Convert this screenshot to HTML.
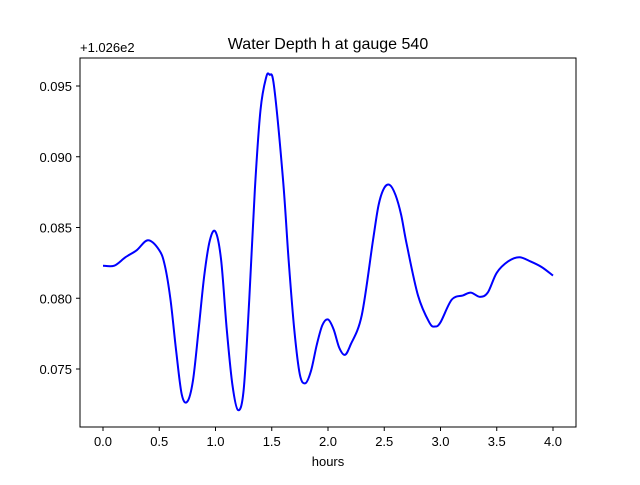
<!DOCTYPE html>
<html><head><meta charset="utf-8"><style>
body{margin:0;background:#fff;}
svg{font-family:"Liberation Sans","DejaVu Sans",sans-serif;}
</style></head><body>
<svg id="chart" width="640" height="480">
<rect x="0" y="0" width="640" height="480" fill="#fff"/>
<text x="328" y="49" text-anchor="middle" font-size="16">Water Depth h at gauge 540</text>
<text x="80" y="52" font-size="13">+1.026e2</text>
<g id="xt"></g>
<g id="yt"></g>
<path id="line" fill="none" stroke="#0000ff" stroke-width="2"/>
<rect x="80" y="58" width="496" height="369" fill="none" stroke="#000" stroke-width="1"/>
<text x="328" y="466" text-anchor="middle" font-size="13">hours</text>
</svg>
<script>
const hours=[0,0.1,0.2,0.3,0.4,0.5,0.55,0.6,0.65,0.7,0.75,0.8,0.85,0.9,0.95,1.0,1.05,1.1,1.15,1.2,1.25,1.3,1.35,1.4,1.45,1.48,1.52,1.6,1.65,1.7,1.75,1.8,1.85,1.9,1.95,2.0,2.05,2.1,2.15,2.2,2.3,2.4,2.45,2.5,2.55,2.6,2.65,2.7,2.8,2.9,2.95,3.0,3.1,3.2,3.27,3.35,3.42,3.5,3.6,3.7,3.8,3.9,4.0];
const depth=[0.0823,0.0823,0.0829,0.0834,0.0841,0.0834,0.0823,0.0799,0.0763,0.0732,0.0727,0.0742,0.0778,0.0816,0.0841,0.0847,0.0827,0.0778,0.0739,0.0721,0.0735,0.0799,0.0877,0.0933,0.0956,0.0958,0.0950,0.0884,0.0827,0.0778,0.0746,0.0740,0.0749,0.0767,0.0781,0.0785,0.0778,0.0765,0.0760,0.0767,0.0788,0.0841,0.0866,0.0878,0.0880,0.0873,0.0859,0.0838,0.0802,0.0783,0.0780,0.0783,0.0799,0.0802,0.0804,0.0801,0.0804,0.0818,0.0826,0.0829,0.0826,0.0822,0.0816];
const xTicks=[0,0.5,1,1.5,2,2.5,3,3.5,4];
const xTickLabels=["0.0","0.5","1.0","1.5","2.0","2.5","3.0","3.5","4.0"];
const yTicks=[0.075,0.080,0.085,0.090,0.095];
const yTickLabels=["0.075","0.080","0.085","0.090","0.095"];
const X=t=>103+t*112.5;
const Y=v=>369-(v-0.075)/0.005*70.75;
const NS="http://www.w3.org/2000/svg";
const xt=document.getElementById('xt'),yt=document.getElementById('yt');
xTicks.forEach((t,i)=>{
 const l=document.createElementNS(NS,'line');
 
 
 l.setAttribute('x1',X(t));l.setAttribute('x2',X(t));l.setAttribute('y1',427);l.setAttribute('y2',431);l.setAttribute('stroke','#000');
 xt.appendChild(l);
 const s=document.createElementNS(NS,'text');
 
 
 s.setAttribute('x',X(t));s.setAttribute('y',446);s.setAttribute('text-anchor','middle');s.setAttribute('font-size','13');
 s.textContent=xTickLabels[i];xt.appendChild(s);
});
yTicks.forEach((v,i)=>{
 const l=document.createElementNS(NS,'line');
 
 
 l.setAttribute('x1',76);l.setAttribute('x2',80);l.setAttribute('y1',Y(v));l.setAttribute('y2',Y(v));l.setAttribute('stroke','#000');
 yt.appendChild(l);
 const s=document.createElementNS(NS,'text');
 
 
 s.setAttribute('x',72);s.setAttribute('y',Y(v)+5);s.setAttribute('text-anchor','end');s.setAttribute('font-size','13');
 s.textContent=yTickLabels[i];yt.appendChild(s);
});
const P=hours.map((t,i)=>[X(t),Y(depth[i])]);
let d='M'+P[0][0]+','+P[0][1];
for(let i=0;i<P.length-1;i++){
 const p0=P[i-1]||P[i],p1=P[i],p2=P[i+1],p3=P[i+2]||P[i+1];
 const c1=[p1[0]+(p2[0]-p0[0])/6,p1[1]+(p2[1]-p0[1])/6];
 const c2=[p2[0]-(p3[0]-p1[0])/6,p2[1]-(p3[1]-p1[1])/6];
 d+=' C'+c1+' '+c2+' '+p2;
}
document.getElementById('line').setAttribute('d',d);
</script>
</body></html>
